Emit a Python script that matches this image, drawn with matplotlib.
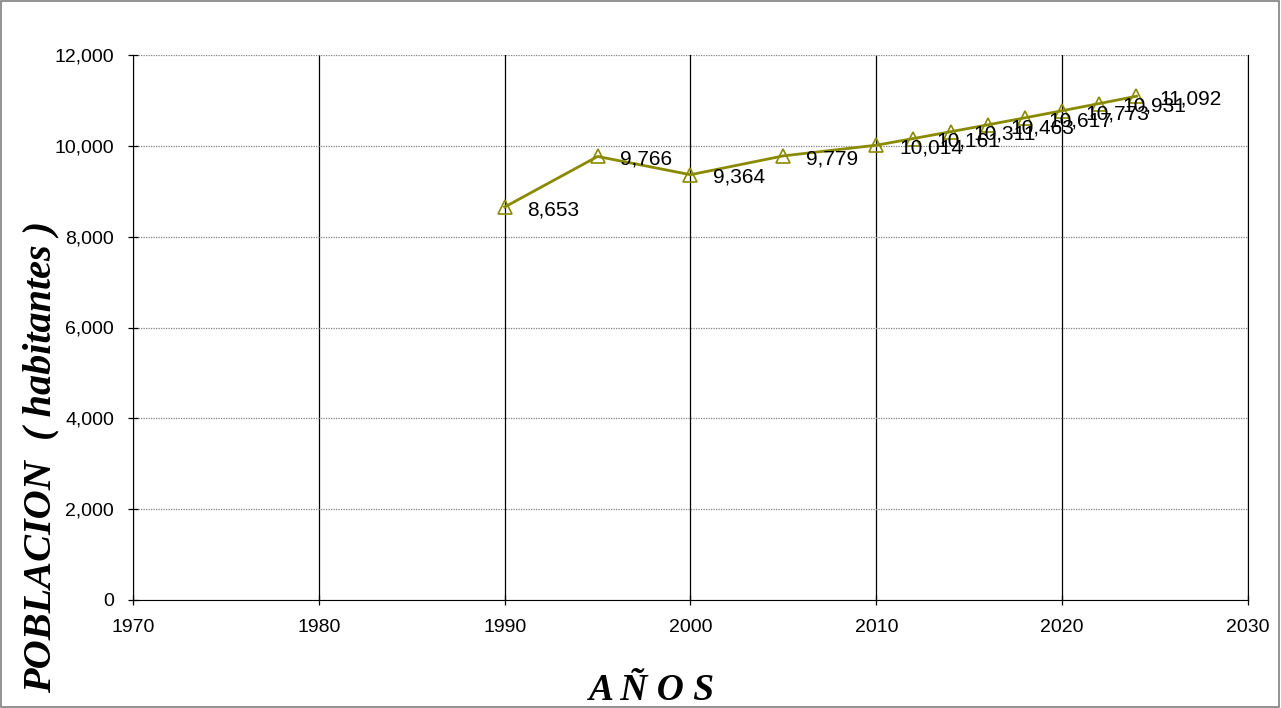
import matplotlib.pyplot as plt
from matplotlib.patches import Rectangle
from matplotlib.ticker import FuncFormatter, MultipleLocator

# poblacion por año
years = [1990, 1995, 2000, 2005, 2010, 2012, 2014, 2016, 2018, 2020, 2022, 2024]
population = [8653, 9766, 9364, 9779, 10014, 10161, 10311, 10463, 10617, 10773, 10931, 11092]

color = '#8a8a00'

fig = plt.figure(figsize=(12.81, 7.08), dpi=100)
ax = fig.add_axes([133 / 1281, 1 - 600 / 708, (1248 - 133) / 1281, (600 - 55) / 708])

ax.plot(years, population, color=color, lw=2, marker='^', ms=10,
        mfc='none', mec=color, mew=1.2, zorder=3)

for x, y in zip(years, population):
    ax.annotate(f"{y:,}", (x, y), xytext=(16.5, -2), textcoords='offset points',
                ha='left', va='center', fontsize=15, family='Liberation Sans')

ax.set_xlim(1970, 2030)
ax.set_ylim(0, 12000)
ax.xaxis.set_major_locator(MultipleLocator(10))
ax.yaxis.set_major_locator(MultipleLocator(2000))
ax.yaxis.set_major_formatter(FuncFormatter(lambda v, p: f"{int(v):,}"))

ax.xaxis.grid(True, color='black', lw=0.9, ls='-')
ax.yaxis.grid(True, color='#808080', lw=0.9, ls=(0, (1, 1)))
ax.set_axisbelow(True)

ax.spines['top'].set_visible(False)
ax.tick_params(direction='inout', length=7, width=0.9, labelsize=14, pad=10)
for lbl in ax.get_xticklabels() + ax.get_yticklabels():
    lbl.set_family('Liberation Sans')

# titulos de ejes
fig.text(652 / 1281, 1 - 690 / 708, 'A Ñ O S', family='Liberation Serif', fontsize=27,
         fontweight='bold', style='italic', ha='center', va='center')
fig.text(41 / 1281, 1 - 457 / 708, 'POBLACION  ( habitantes )', family='Liberation Serif',
         fontsize=29, fontweight='bold', style='italic', rotation=90,
         ha='center', va='center')

fig.patches.append(Rectangle((0.0005, 0.001), 0.998, 0.998, transform=fig.transFigure,
                             fill=False, edgecolor='#808080', lw=1.2))

fig.savefig('out.png', dpi=100)
